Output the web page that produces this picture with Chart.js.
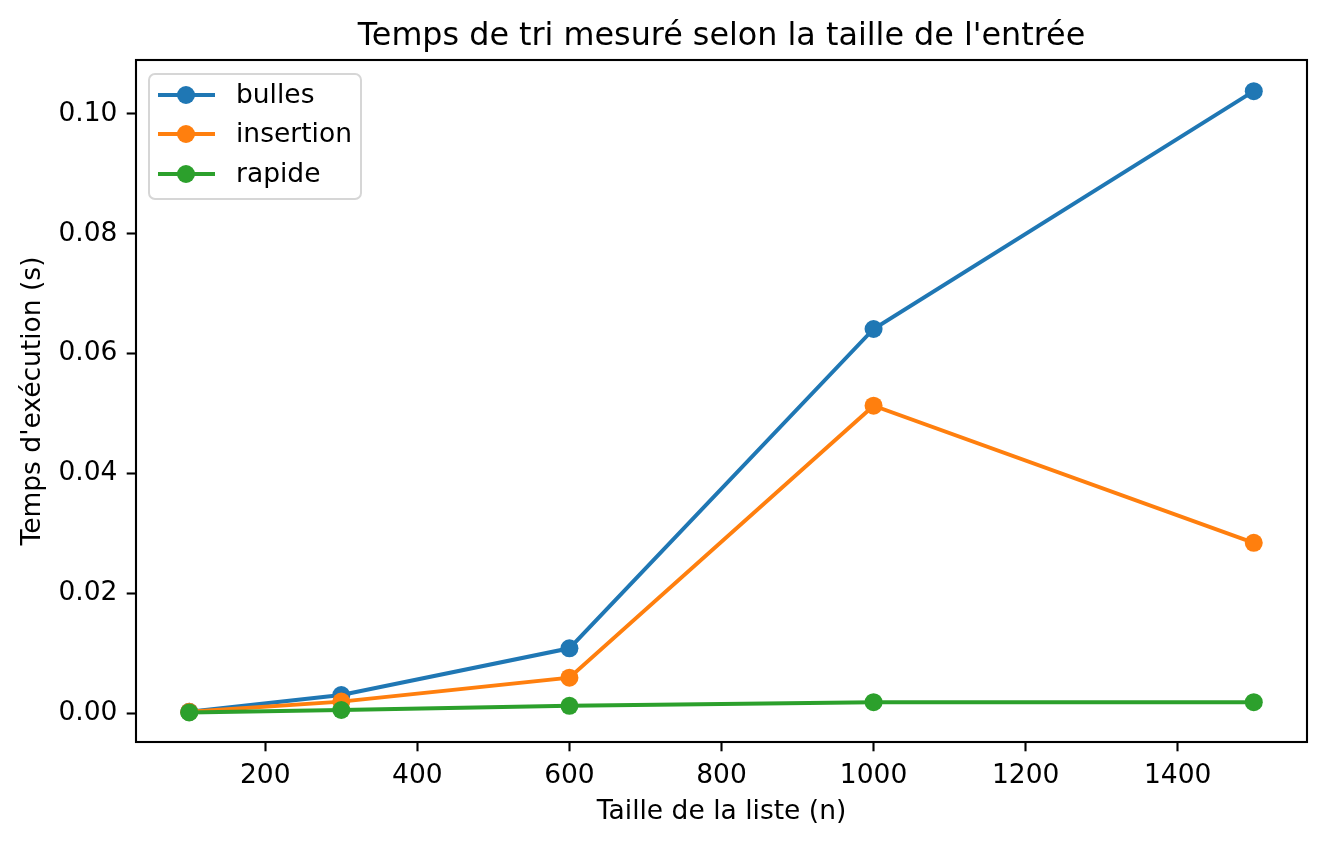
<!DOCTYPE html>
<html lang="fr">
<head>
  <meta charset="UTF-8" />
  <title>Temps de tri</title>
  <style>
    html, body { margin: 0; padding: 0; background: #fff; }
    canvas { display: block; }
  </style>
</head>
<body>
  <canvas id="chart" width="1326" height="844"></canvas>

  <script src="https://cdn.jsdelivr.net/npm/chart.js"></script>
  <script>
    // valeurs
    const tailles = [100, 300, 600, 1000, 1500];
    const bulles = [0.0002, 0.0030, 0.0108, 0.0641, 0.1038];
    const insertion = [0.0002, 0.0019, 0.0059, 0.0513, 0.0284];
    const rapide = [0.0001, 0.0005, 0.0012, 0.0018, 0.0018];
    const xTicks = [200, 400, 600, 800, 1000, 1200, 1400];
    const yTicks = [0, 0.02, 0.04, 0.06, 0.08, 0.10];
    const titre = "Temps de tri mesuré selon la taille de l'entrée";

    const font = 'DejaVu Sans';
    const tickPx = 26.5;

    function pts(ys) {
      return tailles.map((x, i) => ({ x: x, y: ys[i] }));
    }

    function serie(label, ys, color, order) {
      return {
        label: label,
        data: pts(ys),
        borderColor: color,
        backgroundColor: color,
        borderWidth: 4,
        pointRadius: 9,
        pointHoverRadius: 9,
        pointBorderWidth: 0,
        tension: 0,
        order: order
      };
    }

    const series = [
      serie('bulles', bulles, '#1f77b4', 3),
      serie('insertion', insertion, '#ff7f0e', 2),
      serie('rapide', rapide, '#2ca02c', 1)
    ];

    // cadre, titre centré sur la zone de tracé, légende façon matplotlib
    const frame = {
      id: 'frame',
      afterDatasetsDraw(chart) {
        const { ctx, chartArea: a } = chart;
        ctx.save();
        ctx.strokeStyle = '#000';
        ctx.lineWidth = 2.1;
        ctx.strokeRect(a.left, a.top, a.right - a.left, a.bottom - a.top);

        ctx.fillStyle = '#000';
        ctx.font = '31.8px "' + font + '"';
        ctx.textAlign = 'center';
        ctx.textBaseline = 'alphabetic';
        ctx.fillText(titre, (a.left + a.right) / 2, 45);

        // légende
        const bx = 149, by = 74, bw = 212, bh = 125, r = 6;
        ctx.beginPath();
        ctx.roundRect(bx, by, bw, bh, r);
        ctx.fillStyle = 'rgba(255,255,255,0.8)';
        ctx.fill();
        ctx.strokeStyle = '#d6d6d6';
        ctx.lineWidth = 2;
        ctx.stroke();

        const rows = [95, 134, 174];
        ctx.font = tickPx + 'px "' + font + '"';
        ctx.textBaseline = 'middle';
        ctx.textAlign = 'left';
        series.forEach((s, i) => {
          const y = rows[i];
          ctx.strokeStyle = s.borderColor;
          ctx.lineWidth = 4;
          ctx.beginPath();
          ctx.moveTo(158, y);
          ctx.lineTo(215, y);
          ctx.stroke();
          ctx.fillStyle = s.borderColor;
          ctx.beginPath();
          ctx.arc(186, y, 9, 0, Math.PI * 2);
          ctx.fill();
          ctx.fillStyle = '#000';
          ctx.fillText(s.label, 236, y + 1);
        });
        ctx.restore();
      }
    };

    const axisCommon = {
      grid: {
        display: true,
        drawOnChartArea: false,
        drawTicks: true,
        tickLength: 9.3,
        tickWidth: 2.1,
        tickColor: '#000'
      },
      border: { display: false },
      ticks: {
        color: '#000',
        padding: 9.3,
        font: { family: font, size: tickPx }
      }
    };

    new Chart(document.getElementById('chart'), {
      type: 'line',
      data: { datasets: series },
      plugins: [frame],
      options: {
        responsive: false,
        animation: false,
        devicePixelRatio: 1,
        layout: { padding: { top: 60, left: 0, right: 19, bottom: 0 } },
        plugins: {
          legend: { display: false },
          tooltip: { enabled: false },
          title: { display: false }
        },
        scales: {
          x: {
            ...axisCommon,
            type: 'linear',
            min: 30,
            max: 1570,
            afterBuildTicks: s => { s.ticks = xTicks.map(v => ({ value: v })); },
            afterFit: s => { s.height = 102; },
            ticks: { ...axisCommon.ticks, maxRotation: 0, callback: v => String(v) },
            title: {
              display: true,
              text: 'Taille de la liste (n)',
              color: '#000',
              padding: { top: 0, bottom: 16 },
              font: { family: font, size: tickPx }
            }
          },
          y: {
            ...axisCommon,
            type: 'linear',
            min: -0.00484,
            max: 0.109,
            afterBuildTicks: s => { s.ticks = yTicks.map(v => ({ value: v })); },
            afterFit: s => { s.width = 136; },
            ticks: { ...axisCommon.ticks, callback: v => v.toFixed(2) },
            title: {
              display: true,
              text: "Temps d'exécution (s)",
              color: '#000',
              padding: { top: 17, bottom: 0 },
              font: { family: font, size: tickPx }
            }
          }
        }
      }
    });
  </script>
</body>
</html>
